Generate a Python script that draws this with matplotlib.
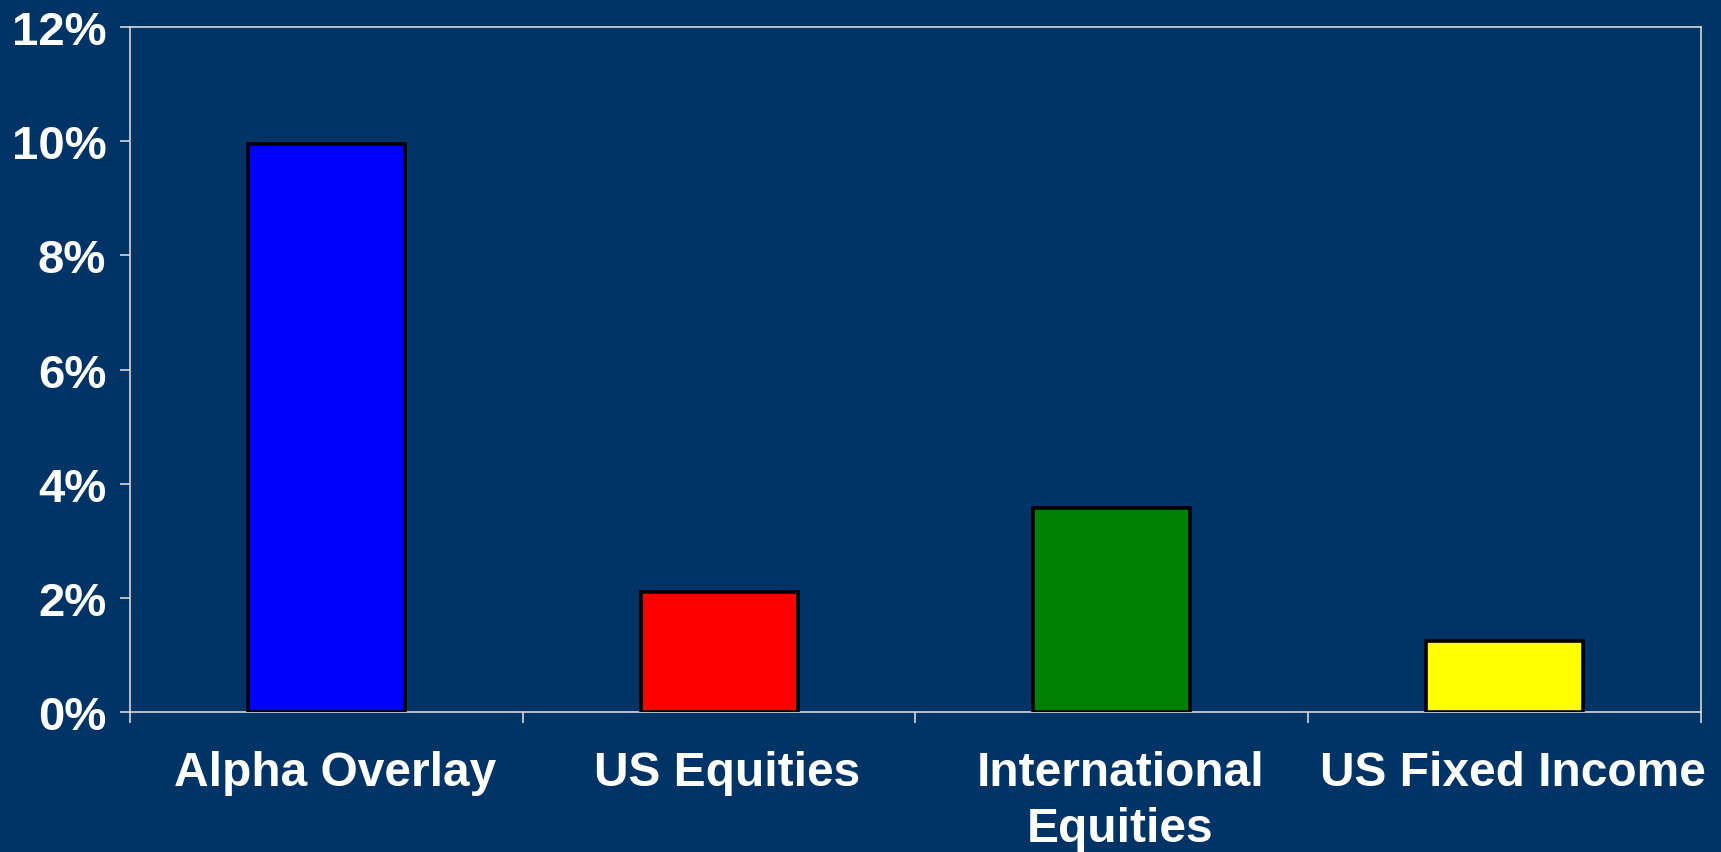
import matplotlib
matplotlib.use("Agg")
import matplotlib.pyplot as plt
import matplotlib.transforms as mtransforms
from matplotlib.ticker import FuncFormatter

categories = ["Alpha Overlay", "US Equities", "International\nEquities", "US Fixed Income"]
values = [9.95, 2.1, 3.58, 1.25]
bar_colors = ["#0000FF", "#FF0000", "#008000", "#FFFF00"]
y_ticks = [0, 2, 4, 6, 8, 10, 12]

bg = "#003366"
plt.rcParams['font.family'] = ['Liberation Sans', 'DejaVu Sans']

fig = plt.figure(figsize=(17.21, 8.53), dpi=100, facecolor=bg)
ax = fig.add_axes([0.0755, 0.1641, 0.9129, 0.8031], facecolor=bg)

x = list(range(len(categories)))
ax.bar(x, values, width=0.4, color=bar_colors, edgecolor="black", linewidth=2.6, zorder=3)

ax.set_xlim(-0.5, len(categories) - 0.5)
ax.set_ylim(0, 12)
ax.set_yticks(y_ticks)
ax.yaxis.set_major_formatter(FuncFormatter(lambda v, p: f"{v:.0f}%"))

# labels at category centres, tick marks at boundaries
ax.set_xticks(x)
ax.set_xticklabels(categories, linespacing=1.32)
ax.set_xticks([i - 0.5 for i in range(len(categories) + 1)], minor=True)
ax.tick_params(axis="x", which="major", length=0, pad=27)
ax.tick_params(axis="x", which="minor", length=8, width=1.2, color="#D8D8D8", direction="out")
ax.tick_params(axis="y", length=7, width=1.2, color="#D8D8D8", direction="out", pad=10)

shift = mtransforms.ScaledTranslation(6 / 72, 0, fig.dpi_scale_trans)
for lab in ax.get_xticklabels():
    lab.set_transform(lab.get_transform() + shift)
    lab.set_fontsize(34.5)

for lab in ax.get_xticklabels() + ax.get_yticklabels():
    lab.set_color("white")
    lab.set_fontweight("bold")
for lab in ax.get_yticklabels():
    lab.set_fontsize(34)

for s in ax.spines.values():
    s.set_color("#D8D8D8")
    s.set_linewidth(1.2)

fig.savefig("out.png", dpi=100, facecolor=bg)
